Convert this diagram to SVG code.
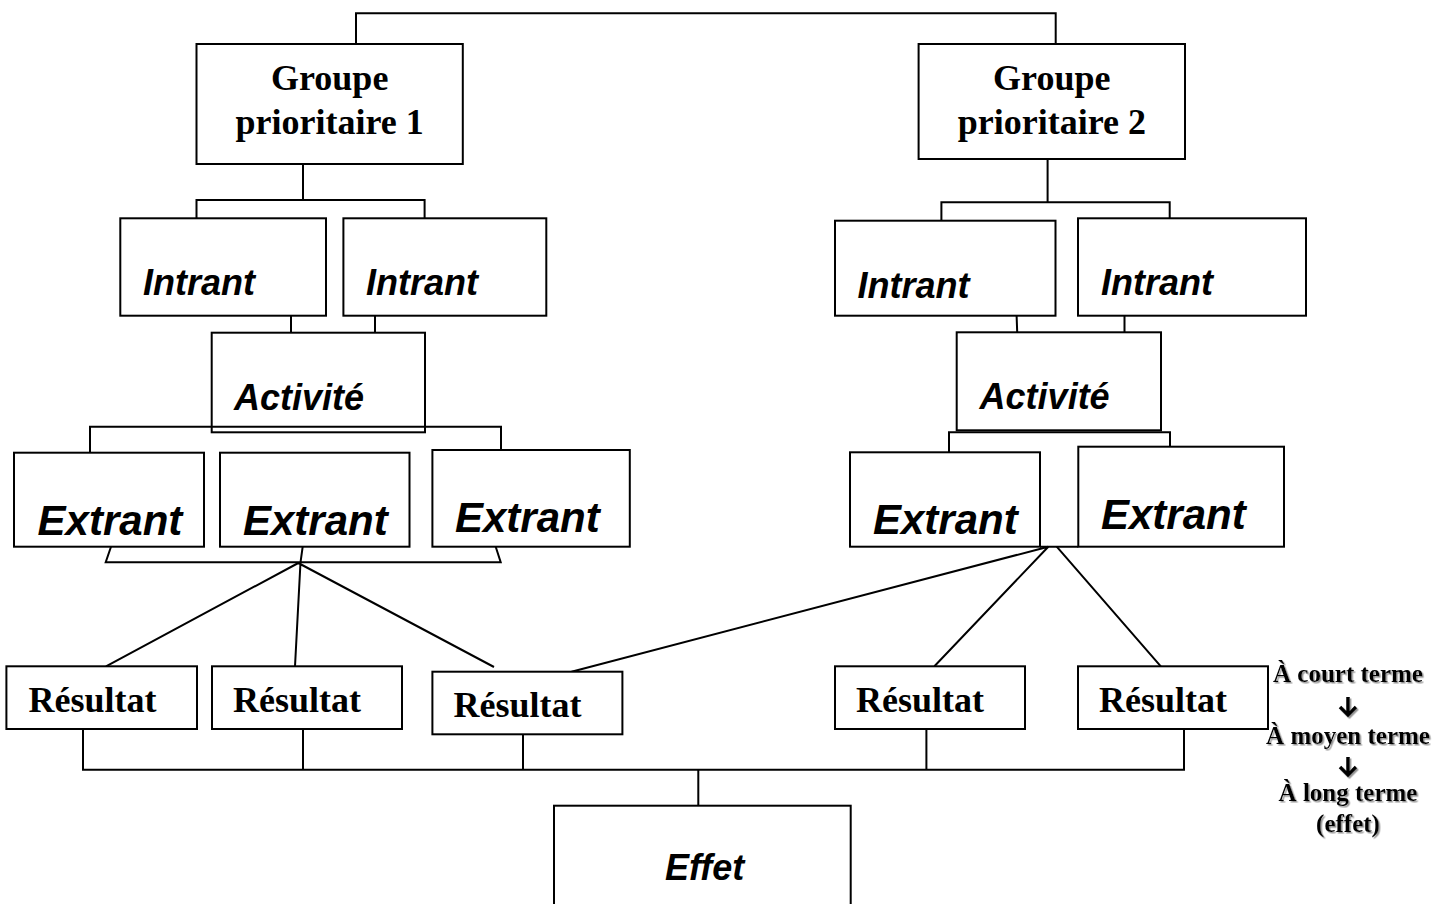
<svg xmlns="http://www.w3.org/2000/svg" width="1451" height="904" viewBox="0 0 1451 904">
<style>
.box{fill:#fff;stroke:#000;stroke-width:2}
.ln{fill:none;stroke:#000;stroke-width:2}
.arr{fill:none;stroke:#000;stroke-width:3.5}
.gp{font-family:"Liberation Serif","Times New Roman",serif;font-weight:bold;font-size:36px;text-anchor:middle}
.res{font-family:"Liberation Serif","Times New Roman",serif;font-weight:bold;font-size:36px}
.it{font-family:"Liberation Sans",Arial,sans-serif;font-weight:bold;font-style:italic;font-size:36px}
.ex{font-family:"Liberation Sans",Arial,sans-serif;font-weight:bold;font-style:italic;font-size:42px}
.side{font-family:"Liberation Serif","Times New Roman",serif;font-weight:bold;font-size:25px;text-anchor:middle}
</style>
<defs>
<filter id="sh" x="-10%" y="-20%" width="130%" height="160%">
<feDropShadow dx="1.5" dy="1.5" stdDeviation="0.6" flood-color="#888" flood-opacity="0.9"/>
</filter>
</defs>
<rect width="1451" height="904" fill="#fff"/>

<g id="connectors">
<path class="ln" d="M356 44 V13.3 H1055.7 V44"/>
<path class="ln" d="M303 164 V200 M196.5 218 V200 H424.6 V218"/>
<path class="ln" d="M1047.6 159 V202.3 M941.4 220.7 V202.3 H1169.7 V218.3"/>
<path class="ln" d="M291 312.7 V332.7 M375 312.7 V332.7"/>
<path class="ln" d="M1016.5 312.7 L1017.2 332.3 M1124.5 312.7 V332.3"/>
<path class="ln" d="M90 452.7 V426.7 H501 V452.7"/>
<path class="ln" d="M949 452.3 V432.3 H1170 V446.7"/>
<path class="ln" d="M111 546.7 L105.7 562.3 H500.7 L495.7 546.7 M302.7 546.7 L300.5 562.3"/>
<path class="ln" d="M298.3 563 L106 666.3 M300.5 562.3 L295 666.3 M298.3 563 L494 667"/>
<path class="ln" d="M1040 546.7 H1078.3"/>
<path class="ln" d="M1048.3 546.7 L571.5 671.7 M1048.3 546.7 L934.4 666.3 M1056.7 546.7 L1160.8 666.3"/>
<path class="ln" d="M83 729 V769.8 H1184 V729 M303 729 V769.8 M523 734.3 V769.8 M926.4 729 V769.8 M698.3 769.8 V805.7"/>
</g>

<g id="gp1"><rect class="box" x="196.5" y="44" width="266.3" height="120"/>
<text class="gp" x="329.7" y="90">Groupe</text><text class="gp" x="329.7" y="134">prioritaire 1</text></g>
<g id="gp2"><rect class="box" x="918.6" y="44" width="266.4" height="115"/>
<text class="gp" x="1051.8" y="90">Groupe</text><text class="gp" x="1051.8" y="134">prioritaire 2</text></g>

<g id="intrant1"><rect class="box" x="120.3" y="218.3" width="205.7" height="97.4"/><text class="it" x="143" y="295">Intrant</text></g>
<g id="intrant2"><rect class="box" x="343.4" y="218.3" width="202.9" height="97.4"/><text class="it" x="366" y="295">Intrant</text></g>
<g id="intrant3"><rect class="box" x="835" y="220.7" width="220.5" height="95"/><text class="it" x="857.5" y="298.3">Intrant</text></g>
<g id="intrant4"><rect class="box" x="1078" y="218.3" width="228" height="97.4"/><text class="it" x="1101" y="295">Intrant</text></g>

<g id="activite1"><rect class="box" x="211.7" y="332.7" width="213.3" height="99.6"/><path class="ln" d="M211.7 426.7 H425"/><text class="it" x="234" y="410">Activité</text></g>
<g id="activite2"><rect class="box" x="956.7" y="332.3" width="204.3" height="98"/><text class="it" x="979.6" y="409.3">Activité</text></g>

<g id="extrant1"><rect class="box" x="14" y="452.7" width="190" height="94"/><text class="ex" x="37.6" y="535">Extrant</text></g>
<g id="extrant2"><rect class="box" x="220" y="452.7" width="189.5" height="94"/><text class="ex" x="243" y="535">Extrant</text></g>
<g id="extrant3"><rect class="box" x="432.4" y="450" width="197.4" height="96.7"/><text class="ex" x="455" y="531.7">Extrant</text></g>
<g id="extrant4"><rect class="box" x="850" y="452.3" width="190" height="94.4"/><text class="ex" x="873" y="534">Extrant</text></g>
<g id="extrant5"><rect class="box" x="1078.3" y="446.7" width="205.7" height="100"/><text class="ex" x="1101" y="529.3">Extrant</text></g>

<g id="resultat1"><rect class="box" x="6.4" y="666.3" width="190.6" height="62.7"/><text class="res" x="28.5" y="711.7">Résultat</text></g>
<g id="resultat2"><rect class="box" x="212" y="666.3" width="190" height="62.7"/><text class="res" x="233" y="711.7">Résultat</text></g>
<g id="resultat3"><rect class="box" x="432.4" y="671.7" width="190" height="62.6"/><text class="res" x="453.5" y="716.7">Résultat</text></g>
<g id="resultat4"><rect class="box" x="835" y="666.3" width="190" height="62.7"/><text class="res" x="856" y="711.7">Résultat</text></g>
<g id="resultat5"><rect class="box" x="1078" y="666.3" width="190" height="62.7"/><text class="res" x="1099" y="711.7">Résultat</text></g>

<g id="effet"><rect class="box" x="554" y="805.7" width="296.7" height="110"/><text class="it" x="665" y="880">Effet</text></g>

<g id="legend" filter="url(#sh)">
<text class="side" x="1348" y="682">À court terme</text>
<path class="arr" d="M1348 697 V715 M1340 707 L1348 715 L1356 707"/>
<text class="side" x="1348" y="744">À moyen terme</text>
<path class="arr" d="M1348 757 V775 M1340 767 L1348 775 L1356 767"/>
<text class="side" x="1348" y="801">À long terme</text>
<text class="side" x="1348" y="832">(effet)</text>
</g>
</svg>
